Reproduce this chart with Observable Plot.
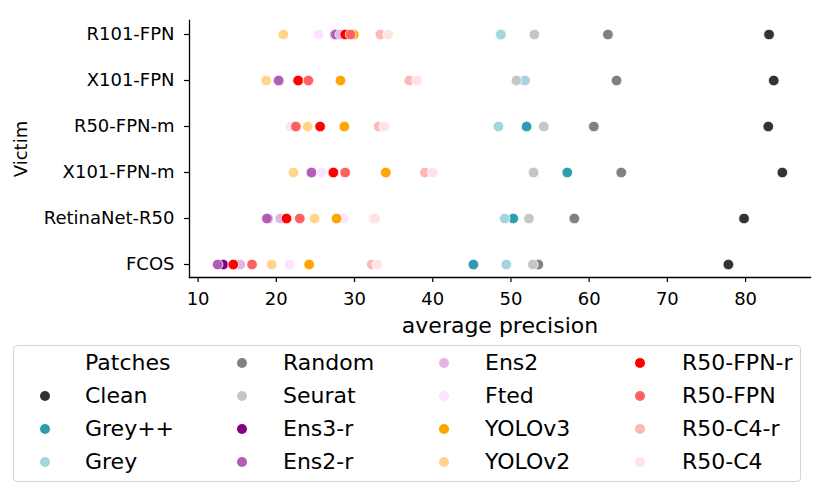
<!DOCTYPE html>
<html>
<head>
<meta charset="utf-8">
<script src="https://cdn.jsdelivr.net/npm/d3@7"></script>
<script src="https://cdn.jsdelivr.net/npm/@observablehq/plot@0.6"></script>
<style>
  body { margin: 0; background: #fff; font-family: "DejaVu Sans", sans-serif; }
  #wrap { position: relative; width: 830px; height: 496px; }
  #chart { position: absolute; left: 0; top: 0; }
  #legend { position: absolute; left: 13px; top: 345px; width: 788px; height: 137px;
            border: 1px solid #d5d5d5; border-radius: 4px; box-sizing: border-box; background: #fff; }
  .li { position: absolute; font-size: 22px; line-height: 22px; color: #000; white-space: nowrap; }
  .sw { position: absolute; width: 10px; height: 10px; border-radius: 50%; }
</style>
</head>
<body>
<div id="wrap"><div id="chart"></div><div id="legend"></div></div>
<script>
// Victim detectors (y categories), top to bottom
const victims = ["R101-FPN", "X101-FPN", "R50-FPN-m", "X101-FPN-m", "RetinaNet-R50", "FCOS"];
// Patch series (hue order = draw order)
const patches = ["Clean", "Grey++", "Grey", "Random", "Seurat", "Ens3-r", "Ens2-r", "Ens2", "Fted",
                 "YOLOv3", "YOLOv2", "R50-FPN-r", "R50-FPN", "R50-C4-r", "R50-C4"];
const patchColors = ["#333333", "#2e9dad", "#a3d5df", "#808080", "#c6c6c6", "#800080", "#b05cb8", "#e3b4e5", "#fde3fd",
                     "#ffa500", "#ffd589", "#ff0000", "#ff6161", "#ffb6b6", "#ffe3e3"];
// Average precision per victim, in the victims order
const clean    = [83.0, 83.6, 82.9, 84.7, 79.8, 77.8];
const greyPP   = [48.7, 51.7, 52.0, 57.2, 50.3, 45.2];
const grey     = [48.7, 51.8, 48.4, 52.9, 49.2, 49.4];
const random   = [62.4, 63.5, 60.6, 64.1, 58.1, 53.5];
const seurat   = [53.0, 50.7, 54.2, 52.9, 52.3, 52.8];
const ens3r    = [27.5, 20.3, 22.4, 24.5, 18.9, 13.2];
const ens2r    = [27.6, 20.3, 22.4, 24.5, 18.8, 12.5];
const ens2     = [28.2, 22.7, 22.2, 27.2, 20.5, 15.4];
const fted     = [25.4, 24.0, 21.8, 25.8, 28.6, 21.7];
const yolov3   = [29.9, 28.2, 28.7, 34.0, 27.7, 24.2];
const yolov2   = [20.9, 18.7, 24.0, 22.2, 24.9, 19.4];
const r50fpnr  = [28.8, 22.8, 25.6, 27.3, 21.3, 14.5];
const r50fpn   = [29.5, 24.1, 22.5, 28.8, 23.0, 16.9];
const r50c4r   = [33.3, 37.0, 33.1, 39.0, 32.5, 32.2];
const r50c4    = [34.3, 38.0, 33.8, 40.0, 32.6, 32.9];
const xTicks = [10, 20, 30, 40, 50, 60, 70, 80];

const series = [clean, greyPP, grey, random, seurat, ens3r, ens2r, ens2, fted,
                yolov3, yolov2, r50fpnr, r50fpn, r50c4r, r50c4];
const data = [];
patches.forEach((p, i) => victims.forEach((v, j) => data.push({patch: p, victim: v, ap: series[i][j]})));

const chart = Plot.plot({
  width: 830,
  height: 343,
  marginLeft: 189,
  marginRight: 20,
  marginTop: 20,
  marginBottom: 66,
  style: {fontFamily: "DejaVu Sans", fontSize: "18px", color: "#000", background: "#fff"},
  x: {domain: [8.9, 88.3]},
  y: {domain: victims, type: "point", padding: 0.25},
  color: {domain: patches, range: patchColors},
  marks: [
    Plot.axisX({ticks: xTicks, tickSize: 5, tickPadding: 10, label: null, fontSize: 18, strokeWidth: 1.2}),
    Plot.axisY({tickSize: 5, tickPadding: 10, label: null, fontSize: 18, strokeWidth: 1.2}),
    Plot.frame({anchor: "bottom", stroke: "#000", strokeWidth: 1.3}),
    Plot.frame({anchor: "left", stroke: "#000", strokeWidth: 1.3}),
    Plot.dot(data, {x: "ap", y: "victim", fill: "patch", r: 5.3, stroke: "#fff", strokeWidth: 0.8}),
    Plot.text(["average precision"], {frameAnchor: "bottom", dy: 48, lineAnchor: "middle", textAnchor: "middle", fontSize: 22, fill: "#000"}),
    Plot.text(["Victim"], {frameAnchor: "left", dx: -168, rotate: -90, lineAnchor: "middle", textAnchor: "middle", fontSize: 18, fill: "#000"})
  ]
});
document.getElementById("chart").appendChild(chart);

// Legend (4 columns, column-major, with a "Patches" header entry)
const color = chart.scale("color");
const entries = [{label: "Patches", header: true}].concat(patches.map(p => ({label: p})));
const colMarker = [45, 242, 444, 640];
const colText = [85, 283, 485, 682];
const rowY = [363, 396, 429, 462];
const legend = document.getElementById("legend");
entries.forEach((e, k) => {
  const c = Math.floor(k / 4), r = k % 4;
  const ox = 13, oy = 345;
  if (!e.header) {
    const s = document.createElement("div");
    s.className = "sw";
    s.style.left = (colMarker[c] - 5 - ox - 1) + "px";
    s.style.top = (rowY[r] - 5 - oy - 1) + "px";
    s.style.background = color.apply(e.label);
    legend.appendChild(s);
  }
  const t = document.createElement("div");
  t.className = "li";
  t.textContent = e.label;
  t.style.left = (colText[c] - ox - 1) + "px";
  t.style.top = (rowY[r] - 11 - oy - 1) + "px";
  legend.appendChild(t);
});
</script>
</body>
</html>
